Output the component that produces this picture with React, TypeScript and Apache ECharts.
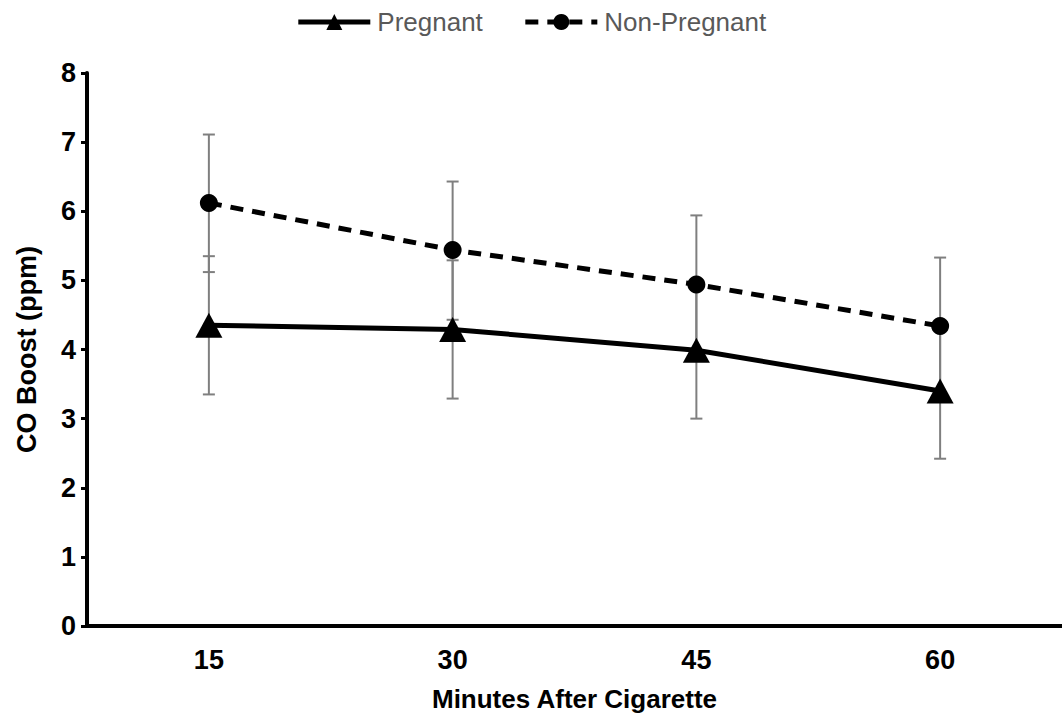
import React, { useEffect, useRef } from "react";
import * as echarts from "echarts";

const categories = ["15", "30", "45", "60"];
const pregnant = [4.35, 4.29, 3.99, 3.4];
const pregnantLow = [3.35, 3.29, 3.0, 2.42];
const pregnantHigh = [5.35, 5.29, 4.99, 4.4];
const nonPregnant = [6.12, 5.44, 4.94, 4.34];
const nonPregnantLow = [5.12, 4.43, 3.94, 3.34];
const nonPregnantHigh = [7.11, 6.43, 5.94, 5.33];

const font = "Arial, 'Liberation Sans', sans-serif";

function errData(low: number[], high: number[]) {
  return categories.map((_, i) => [i, low[i], high[i]]);
}

const renderErr = (params: any, api: any) => {
  const i = api.value(0);
  const lo = api.coord([i, api.value(1)]);
  const hi = api.coord([i, api.value(2)]);
  const hw = 6;
  const style = { stroke: "#7f7f7f", lineWidth: 2 };
  return {
    type: "group",
    children: [
      { type: "line", shape: { x1: lo[0], y1: lo[1], x2: hi[0], y2: hi[1] }, style },
      { type: "line", shape: { x1: lo[0] - hw, y1: lo[1], x2: lo[0] + hw, y2: lo[1] }, style },
      { type: "line", shape: { x1: hi[0] - hw, y1: hi[1], x2: hi[0] + hw, y2: hi[1] }, style },
    ],
  };
};

export default function App() {
  const ref = useRef<HTMLDivElement>(null);
  useEffect(() => {
    if (!ref.current) return;
    const chart = echarts.init(ref.current, null, { renderer: "svg" });
    chart.setOption({
      animation: false,
      legend: {
        top: 4,
        left: "center",
        itemWidth: 72,
        itemHeight: 20,
        itemGap: 40,
        lineStyle: { width: 5 },
        textStyle: { fontFamily: font, fontSize: 26, color: "#595959", padding: [0, 0, 0, 2] },
        data: ["Pregnant", "Non-Pregnant"],
      },
      grid: { left: 87, right: 0, top: 73, bottom: 90 },
      xAxis: {
        type: "category",
        data: categories,
        boundaryGap: true,
        axisLine: { lineStyle: { color: "#000", width: 4 } },
        axisTick: { show: false },
        axisLabel: { fontFamily: font, fontSize: 27, fontWeight: "bold", color: "#000", margin: 20 },
        name: "Minutes After Cigarette",
        nameLocation: "middle",
        nameGap: 60,
        nameTextStyle: { fontFamily: font, fontSize: 26, fontWeight: "bold", color: "#000" },
      },
      yAxis: {
        type: "value",
        min: 0,
        max: 8,
        interval: 1,
        splitLine: { show: false },
        axisLine: { show: true, lineStyle: { color: "#000", width: 4 } },
        axisTick: { show: true, length: 6, lineStyle: { color: "#000", width: 3 } },
        axisLabel: { fontFamily: font, fontSize: 27, fontWeight: "bold", color: "#000", margin: 11 },
        name: "CO Boost (ppm)",
        nameLocation: "middle",
        nameGap: 47,
        nameTextStyle: { fontFamily: font, fontSize: 27, fontWeight: "bold", color: "#000" },
      },
      series: [
        {
          type: "custom",
          renderItem: renderErr,
          data: errData(pregnantLow, pregnantHigh),
          z: 1,
          silent: true,
        },
        {
          type: "custom",
          renderItem: renderErr,
          data: errData(nonPregnantLow, nonPregnantHigh),
          z: 1,
          silent: true,
        },
        {
          name: "Pregnant",
          type: "line",
          data: pregnant,
          symbol: "triangle",
          symbolSize: [27, 25],
          lineStyle: { color: "#000", width: 5 },
          itemStyle: { color: "#000" },
          z: 3,
        },
        {
          name: "Non-Pregnant",
          type: "line",
          data: nonPregnant,
          symbol: "circle",
          symbolSize: 18,
          lineStyle: { color: "#000", width: 5, type: [13, 9] },
          itemStyle: { color: "#000" },
          z: 3,
        },
      ],
    });
    return () => chart.dispose();
  }, []);
  return <div ref={ref} style={{ width: 1062, height: 717, position: "absolute", left: 0, top: 0 }} />;
}
